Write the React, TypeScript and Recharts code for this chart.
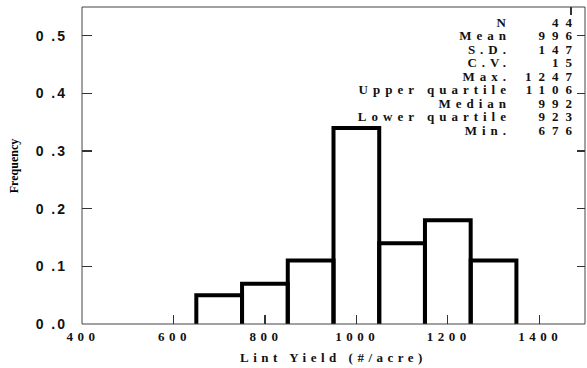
import React from 'react'
import { ComposedChart, XAxis, YAxis, ReferenceArea } from 'recharts'

// histogram bins (lint yield, #/acre) and relative frequency
const binStart = [650, 750, 850, 950, 1050, 1150, 1250]
const binEnd = [750, 850, 950, 1050, 1150, 1250, 1350]
const frequency = [0.05, 0.07, 0.11, 0.34, 0.14, 0.18, 0.11]

const xTicks = [400, 600, 800, 1000, 1200, 1400]
const yTicks = [0, 0.1, 0.2, 0.3, 0.4, 0.5]

const statLabels = ['N', 'Mean', 'S.D.', 'C.V.', 'Max.', 'Upper quartile', 'Median', 'Lower quartile', 'Min.']
const statValues = ['44', '996', '147', '15', '1247', '1106', '992', '923', '676']

const bins = binStart.map((s, i) => ({ start: s, end: binEnd[i], freq: frequency[i] }))

const serif = '"Liberation Serif", "Times New Roman", serif'
const sans = '"Liberation Sans", Arial, sans-serif'
const axisColor = '#444'
const tickStroke = '#333'

// bar outline without the bottom edge
const BinShape = (props: any) => {
  const { x, y, width, height } = props
  return (
    <path
      d={`M${x},${y + height} L${x},${y} L${x + width},${y} L${x + width},${y + height}`}
      fill="none"
      stroke="#000"
      strokeWidth={4}
    />
  )
}

// tickSize/tickMargin are 0, so x/y given to these are the axis line itself;
// tick marks are drawn pointing into the plot
const LeftTick = (props: any) => {
  const { x, y, payload } = props
  return (
    <g>
      {payload.value !== 0 && (
        <line x1={x} x2={x + 10} y1={y} y2={y} stroke={tickStroke} strokeWidth={1.2} shapeRendering="crispEdges" />
      )}
      <text x={x - 15} y={y + 5} textAnchor="end" fontFamily={sans} fontWeight="bold" fontSize={14} letterSpacing={2} fill="#111">
        {payload.value.toFixed(1).replace('.', ' .')}
      </text>
    </g>
  )
}

const BottomTick = (props: any) => {
  const { x, y, payload } = props
  return (
    <g>
      {payload.value !== 400 && (
        <line x1={x} x2={x} y1={y} y2={y - 9} stroke={tickStroke} strokeWidth={1.2} shapeRendering="crispEdges" />
      )}
      <text x={x + 1} y={y + 17} textAnchor="middle" fontFamily={serif} fontWeight="bold" fontSize={13} letterSpacing={4.5} fill="#111">
        {payload.value}
      </text>
    </g>
  )
}

const TopTick = (props: any) => {
  const { x, y } = props
  return <line x1={x} x2={x} y1={y} y2={y + 8} stroke={tickStroke} strokeWidth={1.2} shapeRendering="crispEdges" />
}

const RightTick = (props: any) => {
  const { x, y } = props
  return <line x1={x - 8} x2={x} y1={y} y2={y} stroke={tickStroke} strokeWidth={1.2} shapeRendering="crispEdges" />
}

export default function App() {
  return (
    <div style={{ position: 'absolute', left: 0, top: 0, width: 587, height: 368, background: '#fff' }}>
      <ComposedChart width={587} height={368} data={bins} margin={{ top: 6, right: 1, bottom: 0, left: 12 }}>
        <XAxis
          xAxisId={0}
          type="number"
          dataKey="start"
          domain={[400, 1500]}
          allowDataOverflow
          ticks={xTicks}
          height={44}
          tickSize={0}
          tickMargin={0}
          tickLine={false}
          axisLine={{ stroke: axisColor }}
          tick={<BottomTick />}
        />
        <XAxis
          xAxisId="top"
          orientation="top"
          type="number"
          domain={[400, 1500]}
          allowDataOverflow
          ticks={xTicks.slice(1)}
          height={1}
          tickSize={0}
          tickMargin={0}
          tickLine={false}
          axisLine={{ stroke: axisColor }}
          tick={<TopTick />}
        />
        <YAxis
          yAxisId={0}
          type="number"
          domain={[0, 0.55]}
          allowDataOverflow
          ticks={yTicks}
          width={70}
          tickSize={0}
          tickMargin={0}
          tickLine={false}
          axisLine={{ stroke: axisColor }}
          tick={<LeftTick />}
        />
        <YAxis
          yAxisId="right"
          orientation="right"
          type="number"
          domain={[0, 0.55]}
          allowDataOverflow
          ticks={yTicks.slice(1)}
          width={1}
          tickSize={0}
          tickMargin={0}
          tickLine={false}
          axisLine={{ stroke: axisColor }}
          tick={<RightTick />}
        />
        {bins.map((b) => (
          <ReferenceArea
            key={b.start}
            x1={b.start}
            x2={b.end}
            y1={0}
            y2={b.freq}
            shape={<BinShape />}
            ifOverflow="visible"
          />
        ))}
      </ComposedChart>
      <div style={{ position: 'absolute', left: 82, width: 503, top: 350, textAlign: 'center', fontFamily: serif, fontWeight: 'bold', fontSize: 13, letterSpacing: 4.5, lineHeight: '16px', color: '#111' }}>
        Lint Yield (#/acre)
      </div>
      <div
        style={{
          position: 'absolute', left: 14, top: 166, transform: 'translate(-50%, -50%) rotate(-90deg)',
          fontFamily: serif, fontWeight: 'bold', fontSize: 12, whiteSpace: 'nowrap', lineHeight: '14px',
        }}
      >
        Frequency
      </div>
      {statLabels.map((lab, i) => (
        <div key={lab} style={{ position: 'absolute', top: 17 + i * 13.45, left: 0, width: 587, height: 12, fontFamily: serif, fontWeight: 'bold', fontSize: 13, lineHeight: '12px', color: '#111' }}>
          <span style={{ position: 'absolute', right: 76, letterSpacing: 5, whiteSpace: 'nowrap' }}>{lab}</span>
          <span style={{ position: 'absolute', right: 8, letterSpacing: 7, whiteSpace: 'nowrap' }}>{statValues[i]}</span>
        </div>
      ))}
    </div>
  )
}
